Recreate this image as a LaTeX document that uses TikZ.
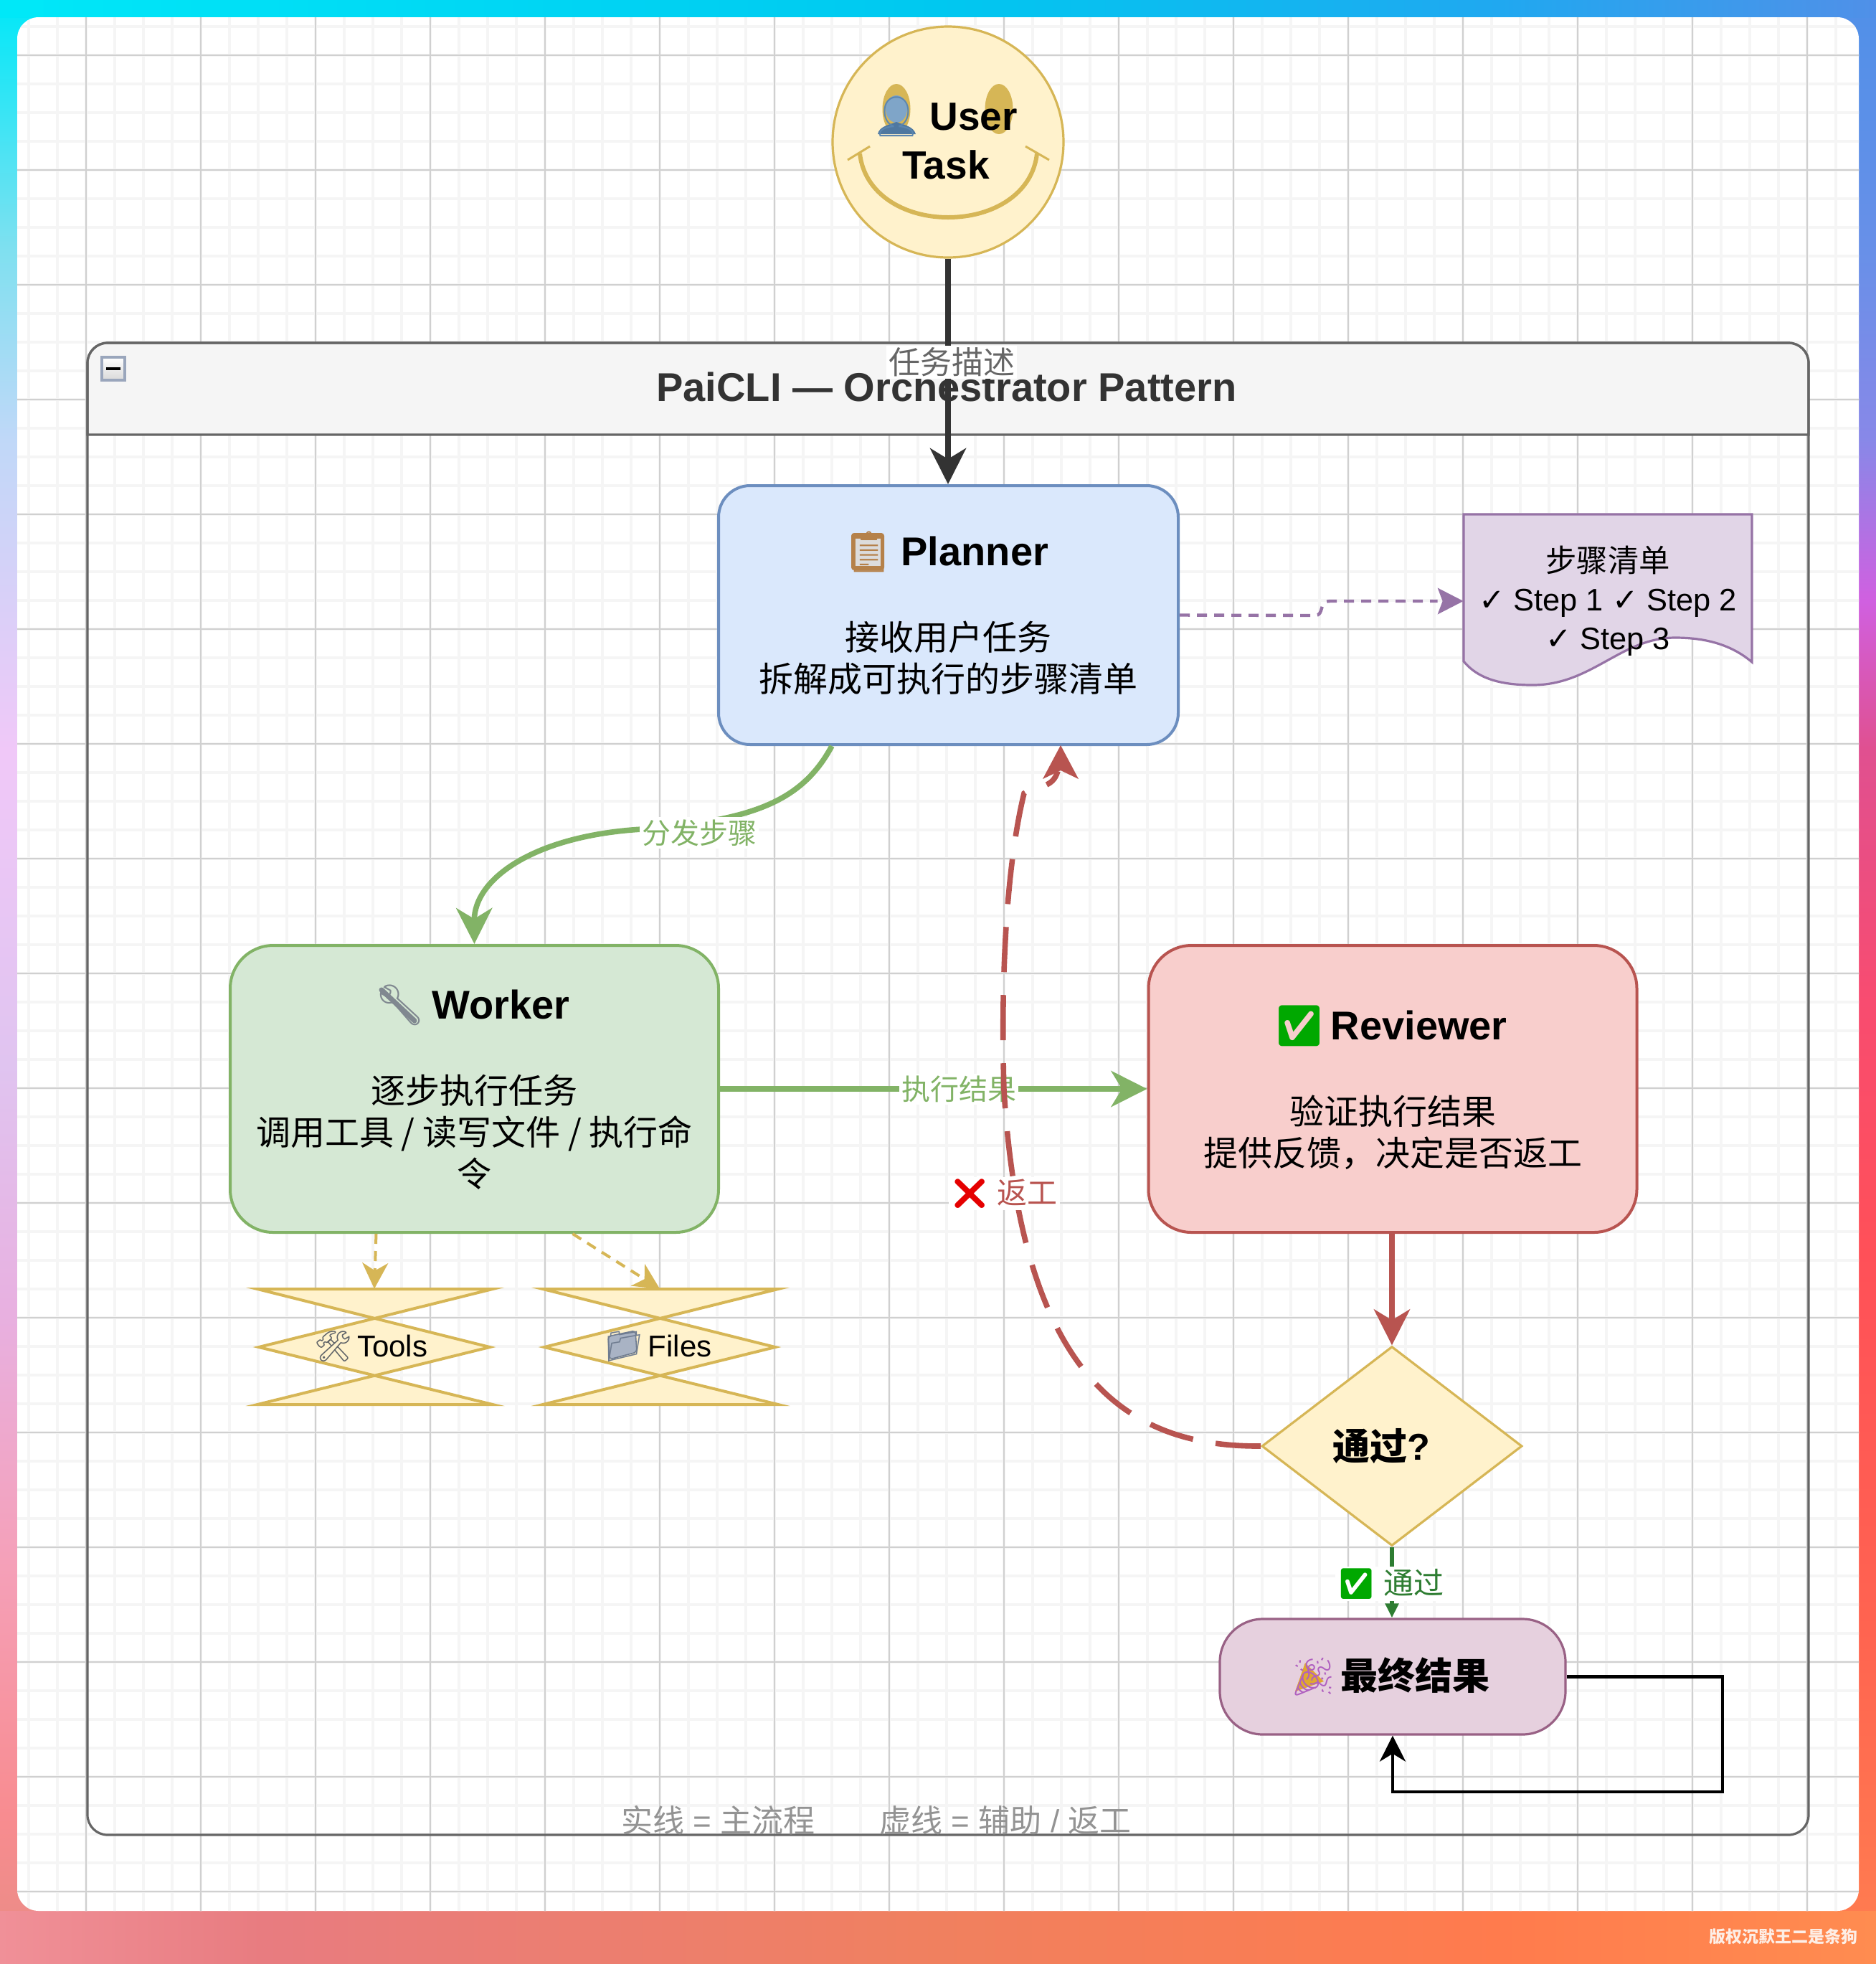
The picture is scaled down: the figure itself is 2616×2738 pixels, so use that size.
\documentclass[tikz,border=0pt]{standalone}
\usepackage{fontspec}
\setmainfont{Liberation Sans}
\newfontfamily\cjkf{Noto Sans CJK SC}
\newfontfamily\emof{Noto Emoji}
\newfontfamily\djvf{DejaVu Sans}
\usetikzlibrary{arrows.meta,shapes.geometric,calc}
\definecolor{gridmin}{HTML}{F5F5F5}
\definecolor{gridmaj}{HTML}{D0D0D0}
\definecolor{yfill}{HTML}{FFF2CC}
\definecolor{yline}{HTML}{D6B656}
\definecolor{bfill}{HTML}{DAE8FC}
\definecolor{bline}{HTML}{6C8EBF}
\definecolor{gfill}{HTML}{D5E8D4}
\definecolor{gline}{HTML}{82B366}
\definecolor{rfill}{HTML}{F8CECC}
\definecolor{rline}{HTML}{B85450}
\definecolor{pfill}{HTML}{E1D5E7}
\definecolor{pline}{HTML}{9673A6}
\definecolor{tfill}{HTML}{E6D0DE}
\definecolor{tline}{HTML}{996185}
\definecolor{lanehead}{HTML}{F5F5F5}
\definecolor{laneline}{HTML}{666666}
\definecolor{darkedge}{HTML}{333333}
\definecolor{okgreen}{HTML}{2E7D32}
\definecolor{togglebd}{HTML}{9AA6BC}
\definecolor{checkgreen}{HTML}{00A800}
\definecolor{bustblue}{HTML}{5B86B0}
\definecolor{bustdark}{HTML}{4F78A0}
\definecolor{busthead}{HTML}{7FA5C8}
\definecolor{clipbrown}{HTML}{B5814A}
\definecolor{clippaper}{HTML}{DCDCDC}
\definecolor{wrenchg}{HTML}{808890}
\definecolor{toolg}{HTML}{606468}
\definecolor{folderf}{HTML}{A9B3C4}
\definecolor{folderl}{HTML}{6F7C90}
\definecolor{popgold}{HTML}{E0A830}
\definecolor{poppur}{HTML}{B060C0}
\definecolor{marktxt}{HTML}{FDEEE6}
\definecolor{l0}{HTML}{00E8F8}\definecolor{l1}{HTML}{80E0F0}\definecolor{l2}{HTML}{C0D8F8}
\definecolor{l3}{HTML}{F0C8F8}\definecolor{l4}{HTML}{E0C4F0}\definecolor{l5}{HTML}{E8B0E0}
\definecolor{l6}{HTML}{F5A0B8}\definecolor{l7}{HTML}{F88C90}\definecolor{l8}{HTML}{E88C84}
\definecolor{r0}{HTML}{5090E8}\definecolor{r1}{HTML}{6890E8}\definecolor{r2}{HTML}{8888E8}
\definecolor{r3}{HTML}{D060E0}\definecolor{r4}{HTML}{E05090}\definecolor{r5}{HTML}{F84C70}
\definecolor{r6}{HTML}{FF5058}\definecolor{r7}{HTML}{FF6450}\definecolor{r8}{HTML}{FF7F50}
\definecolor{t1}{HTML}{00C8F0}\definecolor{t2}{HTML}{20A8F0}
\definecolor{b0}{HTML}{F09098}\definecolor{b1}{HTML}{E87C80}\definecolor{b2}{HTML}{F0805F}
\definecolor{b3}{HTML}{FF7B4D}\definecolor{b4}{HTML}{FF8C50}
\pgfdeclareverticalshading{leftgrad}{100bp}{color(0bp)=(l8);color(25bp)=(l8);color(28.8bp)=(l7);color(35.1bp)=(l6);color(41.5bp)=(l5);color(47.9bp)=(l4);color(55.9bp)=(l3);color(63.8bp)=(l2);color(68.6bp)=(l1);color(75bp)=(l0);color(100bp)=(l0)}
\pgfdeclareverticalshading{rightgrad}{100bp}{color(0bp)=(r8);color(25bp)=(r8);color(33.5bp)=(r7);color(43.1bp)=(r6);color(49.5bp)=(r5);color(55.9bp)=(r4);color(59.7bp)=(r3);color(63.8bp)=(r2);color(68.6bp)=(r1);color(75bp)=(r0);color(100bp)=(r0)}
\pgfdeclarehorizontalshading{topgrad}{100bp}{color(0bp)=(l0);color(25bp)=(l0);color(50bp)=(t1);color(65bp)=(t2);color(75bp)=(r0);color(100bp)=(r0)}
\pgfdeclarehorizontalshading{botgrad}{100bp}{color(0bp)=(b0);color(25bp)=(b0);color(32bp)=(b1);color(50bp)=(b2);color(65bp)=(b3);color(75bp)=(b4);color(100bp)=(b4)}
\newcommand{\fz}[2]{\fontsize{#1}{#2}\selectfont}
\newcommand{\emi}[2]{{\emof\mdseries\textcolor{#1}{#2}}}
\newcommand{\hdline}[3]{{\fz{28}{29}\bfseries\emi{#1}{#2}\kern-3.5pt\ #3\hspace*{3pt}}}
\newcommand{\lastdepth}{\rule[-4.5pt]{0pt}{4.5pt}}
\tikzset{
  boxshape/.style={draw,line width=2pt,rounded corners=#1,inner sep=0pt},
  boxtext/.style={align=center,inner sep=0pt,text=black,font=\fz{24}{29}},
  lanepath/.style={draw=laneline,line width=1.6pt},
  edgelabel/.style={fill=white,inner sep=1.5pt,font=\fz{20}{24}},
  tip/.style={-{Stealth[length=#1,width=#1,inset=.3*#1]}},
  yedge/.style={draw=yline,line width=2pt,dash pattern=on 7pt off 5pt,tip=18pt,yline},
  xbox/.style={fill=yfill,draw=yline,line width=2pt,miter limit=20}
}
\begin{document}
\begin{tikzpicture}[x=0.5pt,y=-0.5pt]
\useasboundingbox (0,0) rectangle (2616,2738);
% gradient frame
\shade[shading=leftgrad] (0,0) rectangle (60,2738);
\shade[shading=rightgrad] (2556,0) rectangle (2616,2738);
\shade[shading=topgrad] (0,0) rectangle (2616,24);
\shade[shading=botgrad] (0,2664) rectangle (2616,2738);
\fill[l0] (0,0) rectangle (60,24);
\fill[white,rounded corners=15pt] (24,24) rectangle (2592,2664);
% canvas grid
\begin{scope}
\clip[rounded corners=15pt] (24,24) rectangle (2592,2664);
\foreach \k in {1,...,64} \draw[gridmin,line width=2pt] ({40*\k},0) -- ({40*\k},2738);
\foreach \k in {0,...,67} \draw[gridmin,line width=2pt] (0,{37+40*\k}) -- (2616,{37+40*\k});
\foreach \k in {0,...,15} \draw[gridmaj,line width=1pt] ({120+160*\k},0) -- ({120+160*\k},2738);
\foreach \k in {0,...,16} \draw[gridmaj,line width=1pt] (0,{77+160*\k}) -- (2616,{77+160*\k});
\end{scope}
% swimlane
\draw[lanepath,fill=lanehead] (122,606) {[rounded corners=14pt] -- (122,478) -- (2522,478)} -- (2522,606) -- cycle;
\draw[lanepath,rounded corners=14pt] (122,478) rectangle (2522,2558);
\node[draw=togglebd,line width=2pt,top color=white,bottom color=black!15,minimum width=16pt,minimum height=16pt,inner sep=0pt] (toggle) at (158,514) {};
\fill[black] (148,512) rectangle (168,516);
\node[font=\fz{28}{32}\bfseries,text=darkedge,inner sep=0pt] (title) at (1320,539.5) {PaiCLI — Orchestrator Pattern};
% user smiley
\node[circle,draw=yline,fill=yfill,line width=1.6pt,minimum size=161pt,inner sep=0pt] (user) at (1322,198) {};
\fill[yline] (1393,152) ellipse [x radius=19.5,y radius=35];
\fill[yline] (1250,152) ellipse [x radius=19.5,y radius=35];
\draw[yline,line width=3pt] (1199,214) .. controls (1205,270) and (1260,303) .. (1322,303) .. controls (1385,303) and (1440,270) .. (1446,214);
\draw[yline,line width=1.5pt] (1182,223) -- (1213,204) (1430,204) -- (1463,223);
\fill[busthead] (1250,152) ellipse [x radius=15,y radius=19];
\fill[bustdark] (1224,187) .. controls (1226,176) and (1240,174) .. (1250,170) .. controls (1260,174) and (1274,176) .. (1277,187) -- cycle;
\node[align=center,inner sep=0pt,font=\fz{27.5}{34}\bfseries,text=black] (usertext) at (1319,192.5) {\emi{bustblue}{👤}\kern-2pt\ User\hspace*{2pt}\\Task};
% main shapes
\node[boxshape=22pt,fill=bfill,draw=bline,minimum width=320.5pt,minimum height=180.5pt] (planner) at (1322.5,857.5) {};
\fill[clipbrown,rounded corners=2pt] (1187,743) rectangle (1233,795);
\fill[clippaper] (1192,750) rectangle (1228,789);
\node[boxtext] (plannertext) at (planner.center) {\hdline{clipbrown}{📋}{Planner}\\[30pt]{\cjkf 接收用户任务}\\{\cjkf 拆解成可执行的步骤清单}\lastdepth};
\node[boxshape=30pt,fill=gfill,draw=gline,minimum width=340.5pt,minimum height=200pt] (worker) at (661.5,1518) {};
\draw[wrenchg,line width=3.5pt,line cap=round] (532,1380) -- (578,1423);
\node[boxtext] (workertext) at (worker.center) {\hdline{wrenchg}{🔧}{Worker}\\[30pt]{\cjkf 逐步执行任务}\\{\cjkf 调用工具 / 读写文件 / 执行命}\\{\cjkf 令}\lastdepth};
\node[boxshape=30pt,fill=rfill,draw=rline,minimum width=340.5pt,minimum height=200pt] (reviewer) at (1942,1518) {};
\node[boxtext] (reviewertext) at (reviewer.center) {\hdline{checkgreen}{✅}{Reviewer}\\[30pt]{\cjkf 验证执行结果}\\{\cjkf 提供反馈，决定是否返工}\lastdepth};
\node[diamond,aspect=1.306,draw=yline,fill=yfill,line width=1.6pt,minimum width=181.5pt,minimum height=139pt,inner sep=0pt,font=\fz{26}{30}] (gate) at (1941,2016) {{\cjkf\bfseries 通过}\textbf{?}\hspace*{15pt}};
\node[boxshape=30pt,fill=tfill,draw=tline,line width=1.6pt,minimum width=241pt,minimum height=80.5pt] (final) at (1942,2337.5) {};
\fill[popgold] (1806,2358) -- (1820,2318) -- (1846,2344) -- cycle;
\node[boxtext,font=\fz{26}{30}] (finaltext) at (final.center) {\emi{poppur}{🎉}\kern-4.5pt\ {\cjkf\bfseries 最终结果}\hspace*{4pt}};
% document
\draw[pline,fill=pfill,line width=1.6pt] (2041,717) -- (2443,717) -- (2443,923) .. controls (2410,895) and (2370,889) .. (2336,889) .. controls (2260,889) and (2220,955) .. (2137,955) .. controls (2090,955) and (2060,945) .. (2041,922) -- cycle;
\node[minimum width=201pt,minimum height=121pt,inner sep=0pt,align=center,text=black,font=\fz{21.7}{27}] (steps) at (2242,838) {{\cjkf 步骤清单}\\{\djvf ✓} Step 1 {\djvf ✓} Step 2\\{\djvf ✓} Step 3};
% tools and files
\newcommand{\xshape}[1]{\begin{scope}[shift={(#1,0)}]
\draw[xbox] (359,1797) -- (687,1797) -- (361,1878) -- (687,1958) -- (359,1958) -- (683,1878) -- cycle;
\end{scope}}
\xshape{0}\xshape{398}
\fill[folderf,draw=folderl,line width=.8pt,rounded corners=2pt] (848,1863) -- (886,1855) -- (888,1885) -- (850,1895) -- cycle;
\node[minimum width=172pt,minimum height=80.5pt,inner sep=0pt,text=black,font=\fz{21}{25}] (tools) at (522,1877.5) {\emi{toolg}{🛠}\,Tools\hspace*{5pt}};
\node[minimum width=172pt,minimum height=80.5pt,inner sep=0pt,text=black,font=\fz{21}{25}] (files) at (920,1877.5) {\emi{folderl}{📁}\,Files\hspace*{2pt}};
% connectors
\draw[draw=darkedge,fill=darkedge,line width=4pt,tip=25pt] (user.south) -- (user.south |- planner.north);
\node[edgelabel,text=laneline,fill=white,font=\fz{22}{26}] (lbtask) at (1327,505) {\cjkf 任务描述};
\coordinate (pbend1) at (1834,858);
\coordinate (pbend2) at (1855,838);
\draw[draw=pline,fill=none,line width=2.2pt,dash pattern=on 7pt off 5pt] (planner.east) -- (pbend1) .. controls (1847,858) and (1838,838) .. (pbend2) -- ($(steps.west)+(-36,0)$);
\fill[pline] (steps.west) -- ++(-36,-18.5) -- ++(7,18.5) -- ++(-7,18.5) -- cycle;
\coordinate (pw) at ($(planner.south west)!.248!(planner.south east)$);
\coordinate (pwmid) at (895,1156);
\draw[draw=gline,line width=3.8pt,tip=25pt,gline] (pw) .. controls (1118,1118) and (1048,1144) .. (pwmid) .. controls (745,1165) and (661,1225) .. (worker.north);
\node[edgelabel,text=gline] (lbdispatch) at (975,1161) {\cjkf 分发步骤};
\draw[draw=gline,line width=3.8pt,tip=25pt,gline] (worker.east) -- (reviewer.west);
\node[edgelabel,text=gline] (lbresult) at (1337,1518) {\cjkf 执行结果};
\coordinate (wt) at ($(worker.south west)!.30!(worker.south east)$);
\coordinate (wf) at ($(worker.south west)!.70!(worker.south east)$);
\draw[yedge] (wt) -- (tools.north);
\draw[yedge] (wf) -- (files.north);
\draw[draw=rline,line width=3.8pt,tip=25pt,rline] (reviewer.south -| gate.north) -- (gate.north);
\coordinate (r1) at (1400,1520);
\coordinate (r2) at (1428,1106);
\draw[draw=rline,line width=3.8pt,dash pattern=on 31.5pt off 16pt] (gate.west) .. controls (1580,2017) and (1425,1930) .. (r1) .. controls (1395,1350) and (1405,1200) .. (r2) .. controls (1445,1095) and (1468,1100) .. (1475,1075);
\fill[rline] (planner.south -| 1479,0) ++(0,-1) -- ++(-25,47) -- ++(25,-12) -- ++(25,12) -- cycle;
\node[edgelabel,text=rline,font=\fz{21}{25}] (lbredo) at (1400,1664) {\emi{red!90!black}{❌} {\cjkf 返工}};
\draw[draw=okgreen,line width=3pt,-{Stealth[length=10pt,width=9pt,inset=0pt]},okgreen] (gate.south) -- (final.north -| gate.south);
\node[edgelabel,text=okgreen,font=\fz{21}{25}] (lbpass) at (1939,2208) {\emi{checkgreen}{✅} {\cjkf 通过}};
\coordinate (la) at (2402,2337.5);
\coordinate (lb) at (2402,2498);
\coordinate (lc) at (1942,2498);
\draw[black,line width=2.2pt,tip=18pt] (final.east) -- (la) -- (lb) -- (lc) -- (final.south);
% legend and watermark
\node[inner sep=0pt,text=gray!85,font=\fz{22}{26}] (legend) at (1222,2538) {{\cjkf 实线} = {\cjkf 主流程}\hspace{45pt}{\cjkf 虚线} = {\cjkf 辅助} / {\cjkf 返工}};
\node[inner sep=0pt,anchor=east,text=marktxt,font=\fz{11.5}{14}] (mark) at (2591,2700) {\cjkf\bfseries 版权沉默王二是条狗};
\end{tikzpicture}
\end{document}
